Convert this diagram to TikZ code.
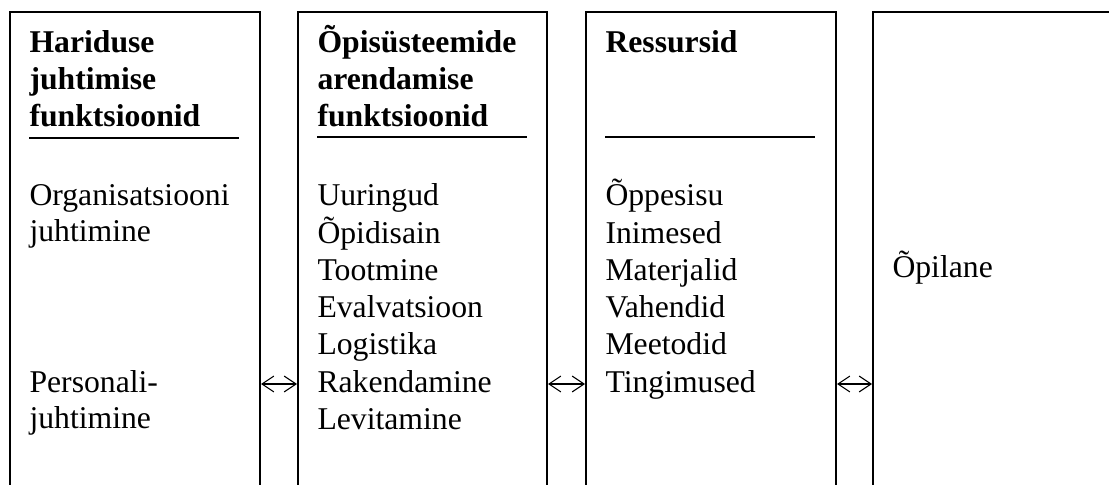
\documentclass[tikz,border=0pt]{standalone}
\usepackage{fontspec}
\setmainfont{Liberation Serif}
\usetikzlibrary{arrows.meta}

\tikzset{
  col/.style={draw, line width=0.76pt, rectangle, inner sep=0pt, anchor=north west,
    minimum width=#1*0.3788pt, minimum height=220pt},
  head/.style={anchor=base west, inner sep=0pt, font=\fontsize{12}{14}\selectfont\bfseries},
  item/.style={anchor=base west, inner sep=0pt, font=\fontsize{12}{14}\selectfont},
  rule/.style={line width=0.76pt},
  link/.style={line width=0.4pt, {Straight Barb[length=4.5pt,width=6pt]}-{Straight Barb[length=4.5pt,width=6pt]}}
}

\begin{document}
\begin{tikzpicture}[x=0.3788pt, y=-0.3788pt]
    \clip (0,0) rectangle (1109,485);
    \fill[white] (0,0) rectangle (1109,485);

    % four columns, open at the bottom
    \node[col=250] (haridus) at (9,11) {};
    \node[col=249] (opisys) at (297,11) {};
    \node[col=250] (ressurss) at (585,11) {};
    \node[col=300] (opilane) at (872,11) {};

    % headings
    \node[head] (h1a) at (29,53) {Hariduse};
    \node[head] (h1b) at (29,90) {juhtimise};
    \node[head] (h1c) at (29,127) {funktsioonid};
    \draw[rule] (29,138) -- (239,138);

    \node[head] (h2a) at (317,53) {Õpisüsteemide};
    \node[head] (h2b) at (317,90) {arendamise};
    \node[head] (h2c) at (317,127) {funktsioonid};
    \draw[rule] (317,137) -- (527,137);

    \node[head] (h3a) at (605,53) {Ressursid};
    \draw[rule] (605,137) -- (815,137);

    % items
    \node[item] (org1) at (29,206) {Organisatsiooni};
    \node[item] (org2) at (29,242) {juhtimine};
    \node[item] (per1) at (29,392) {Personali-};
    \node[item] (per2) at (29,428) {juhtimine};

    \foreach \txt [count=\i from 0] in {Uuringud, Õpidisain, Tootmine, Evalvatsioon, Logistika, Rakendamine, Levitamine}
        \node[item] (f\i) at (317,206+37.2*\i) {\txt};

    \foreach \txt [count=\i from 0] in {Õppesisu, Inimesed, Materjalid, Vahendid, Meetodid, Tingimused}
        \node[item] (r\i) at (605,206+37.2*\i) {\txt};

    \node[item] (opl) at (892,277) {Õpilane};

    % links
    \coordinate (lvl) at (0,384);
    \draw[link] (haridus.east |- lvl) -- (opisys.west |- lvl);
    \draw[link] (opisys.east |- lvl) -- (ressurss.west |- lvl);
    \draw[link] (ressurss.east |- lvl) -- (opilane.west |- lvl);
\end{tikzpicture}
\end{document}
